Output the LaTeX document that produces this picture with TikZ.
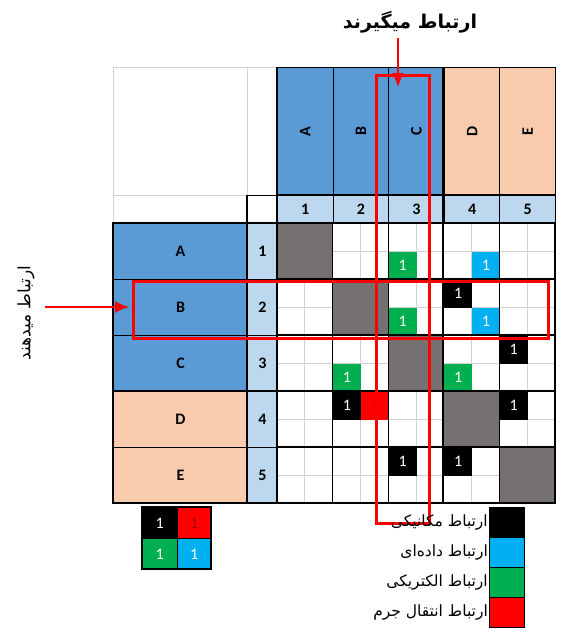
\documentclass[tikz,border=0pt]{standalone}
\usepackage{fontspec}
\setmainfont{Carlito}
\newfontfamily\farsi[Script=Arabic]{DejaVu Sans}
\TeXXeTstate=1
\usetikzlibrary{arrows.meta}
\definecolor{headblue}{RGB}{91, 155, 213}
\definecolor{lightblue}{RGB}{189, 215, 238}
\definecolor{peach}{RGB}{248, 203, 173}
\definecolor{diaggray}{RGB}{118, 113, 113}
\definecolor{elecgreen}{RGB}{0, 176, 80}
\definecolor{datablue}{RGB}{0, 176, 240}
\definecolor{massred}{RGB}{255, 0, 0}
\definecolor{gridgray}{RGB}{210, 210, 210}
\definecolor{darkred}{RGB}{170, 0, 0}

\begin{document}
\begin{tikzpicture}[x=1pt, y=-1pt,
	box/.style={draw=black, line width=1pt, inner sep=0pt, anchor=north west},
	onebox/.style={box, minimum width=27.8pt, minimum height=28pt, text=white, font=\fontsize{16}{18}\selectfont},
	headfont/.style={font=\bfseries\fontsize{16}{18}\selectfont},
	numfont/.style={font=\bfseries\fontsize{16}{18}\selectfont},
	redframe/.style={draw=massred, line width=2.6pt, inner sep=0pt, anchor=north west},
	redarrow/.style={draw=massred, line width=1.8pt, -{Latex[length=14pt, width=12pt]}},
	legtext/.style={anchor=east, inner sep=1pt, font=\farsi\fontsize{15.5}{17}\selectfont}]
	\useasboundingbox (0,0) rectangle (587,630);
	% header area
	\draw[gridgray, line width=0.8pt] (113,223) -- (113,67) -- (555,67);
	\draw[gridgray, line width=0.8pt] (247,67) -- (247,195) -- (113,195);
	\foreach \name/\c/\col in {A/1/headblue, B/2/headblue, C/3/headblue, D/4/peach, E/5/peach} {
		\node[box, fill=\col, minimum width=55.6pt, minimum height=128pt] (col\name) at ({277+(\c-1)*55.6},67) {};
		\node[rotate=90, headfont] at (col\name.center) {\name};
		\node[box, fill=lightblue, minimum width=55.6pt, minimum height=28pt, numfont] (num\c) at ({277+(\c-1)*55.6},195) {\c};
	}
	\node[box, minimum width=30pt, minimum height=28pt] (numcorner) at (247,195) {};
	% row labels
	\foreach \name/\r/\col in {A/1/headblue, B/2/headblue, C/3/headblue, D/4/peach, E/5/peach} {
		\node[box, fill=\col, minimum width=134pt, minimum height=56pt, headfont] (row\name) at (113,{223+(\r-1)*56}) {\name};
		\node[box, fill=lightblue, minimum width=30pt, minimum height=56pt, numfont] (rnum\r) at (247,{223+(\r-1)*56}) {\r};
	}
	% grid with sub lines
	\foreach \k in {1,3,5,7,9} {
		\draw[gridgray, line width=0.8pt] ({277+\k*27.8},223) -- ({277+\k*27.8},503);
		\draw[gridgray, line width=0.8pt] (277,{223+\k*28}) -- (555,{223+\k*28});
	}
	\foreach \r in {1,...,5} {
		\node[box, fill=diaggray, draw=none, minimum width=55.6pt, minimum height=56pt] (diag\r) at ({277+(\r-1)*55.6},{223+(\r-1)*56}) {};
	}
	% links
	\foreach \r/\c/\sx/\sy/\col in {1/3/0/1/elecgreen, 1/4/1/1/datablue, 2/3/0/1/elecgreen, 2/4/0/0/black, 2/4/1/1/datablue,
		3/2/0/1/elecgreen, 3/4/0/1/elecgreen, 3/5/0/0/black, 4/2/0/0/black, 4/5/0/0/black, 5/3/0/0/black, 5/4/0/0/black} {
		\node[onebox, draw=none, fill=\col] at ({277+(\c-1)*55.6+\sx*27.8},{223+(\r-1)*56+\sy*28}) {1};
	}
	\node[onebox, draw=none, fill=massred, text=massred!80!black] (masslink) at ({277+55.6+27.8},{223+3*56}) {1};
	% cell borders
	\foreach \k in {1,...,4} {
		\draw[line width=1.2pt] ({277+\k*55.6},223) -- ({277+\k*55.6},503);
		\draw[line width=1.2pt] (277,{223+\k*56}) -- (555,{223+\k*56});
	}
	\draw[line width=2.2pt] (113,223) rectangle (555,503);
	\draw[line width=2.2pt] (113,391) -- (555,391);
	\draw[line width=2.2pt] (443,67) -- (443,503);
	\draw[line width=2.2pt] (277,67) -- (277,503);
	\draw[line width=2.2pt] (247,195) -- (247,503);
	\draw[line width=1.6pt] (277,195) -- (555,195);
	% red frames and arrows
	\node[redframe, minimum width=53pt, minimum height=448pt] (getframe) at (375,74) {};
	\node[redframe, minimum width=415pt, minimum height=57pt] (giveframe) at (132,280) {};
	\node[font=\farsi\bfseries\fontsize{19}{21}\selectfont] (gets) at (410,22) {\beginR ارتباط میگیرند\endR};
	\node[rotate=90, font=\farsi\fontsize{17}{19}\selectfont] (gives) at (26,313) {\beginR ارتباط میدهند\endR};
	\coordinate (gettail) at (398,38);
	\coordinate (gettip) at (398,87);
	\coordinate (givetail) at (45,307);
	\coordinate (givetip) at (129,307);
	\draw[redarrow] (gettail) -- (gettip);
	\draw[redarrow] (givetail) -- (givetip);
	% legend
	\node[onebox, fill=black, minimum width=34.5pt, minimum height=31pt] (keymech) at (142,507) {1};
	\node[onebox, fill=massred, text=darkred, minimum width=34.5pt, minimum height=31pt] (keymass) at (176.5,507) {1};
	\node[onebox, fill=elecgreen, minimum width=34.5pt, minimum height=31pt] (keyelec) at (142,538) {1};
	\node[onebox, fill=datablue, minimum width=34.5pt, minimum height=31pt] (keydata) at (176.5,538) {1};
	\draw[line width=2pt] (142,507) rectangle (211,569);
	\foreach \col/\y/\txt in {black/507/{ارتباط مکانیکی}, datablue/537/{ارتباط داده‌ای}, elecgreen/567/{ارتباط الکتریکی}, massred/597/{ارتباط انتقال جرم}} {
		\node[box, fill=\col, minimum width=35pt, minimum height=30pt] (leg\y) at (489,\y) {};
		\node[legtext] at (leg\y.west) {\beginR\txt\endR};
	}
\end{tikzpicture}
\end{document}
